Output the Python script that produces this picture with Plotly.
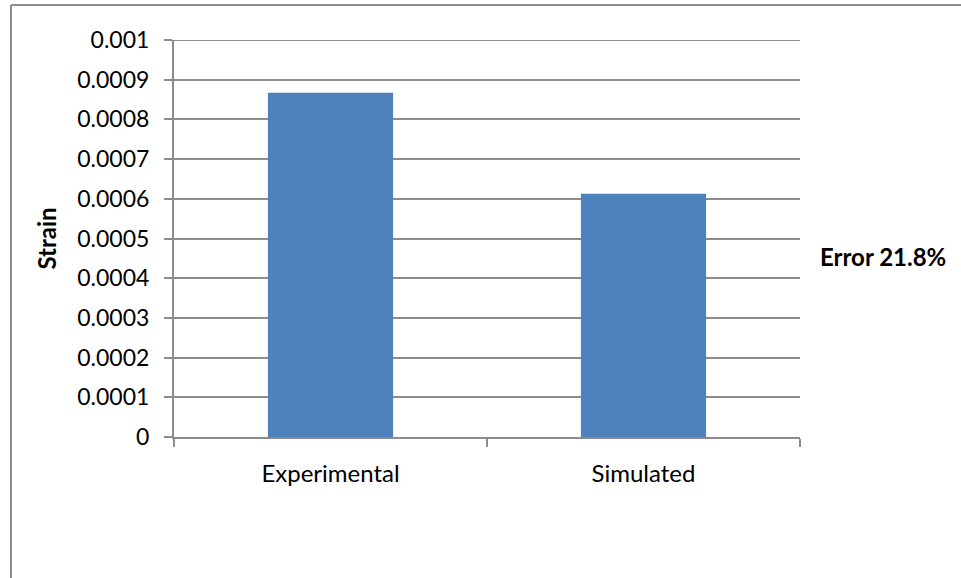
import plotly.graph_objects as go

categories = ["Experimental", "Simulated"]
strain = [0.000867, 0.000613]
y_ticks = [0, 0.0001, 0.0002, 0.0003, 0.0004, 0.0005, 0.0006, 0.0007, 0.0008, 0.0009, 0.001]
y_tick_labels = ["0", "0.0001", "0.0002", "0.0003", "0.0004", "0.0005",
                 "0.0006", "0.0007", "0.0008", "0.0009", "0.001"]
error_note = "Error 21.8%"

FONT = "Lato, 'Open Sans', sans-serif"
GRID = "#8c8c8c"
PLOT_W = 961 - 174 - 161
PLOT_H = 578 - 40 - 140.5

fig = go.Figure(
    go.Bar(
        x=categories,
        y=strain,
        marker=dict(color="#4F81BD", line=dict(width=0)),
        showlegend=False,
    )
)

fig.update_layout(
    width=961,
    height=578,
    margin=dict(l=174, r=161, t=40, b=140.5),
    paper_bgcolor="white",
    plot_bgcolor="white",
    bargap=0.6,
    font=dict(family=FONT, size=23, color="black"),
    xaxis=dict(
        showline=True,
        linecolor=GRID,
        linewidth=2,
        ticks="outside",
        tickson="boundaries",
        ticklen=8,
        tickwidth=2,
        tickcolor=GRID,
        showgrid=False,
        ticklabelstandoff=14,
        tickfont=dict(family=FONT, size=24),
    ),
    yaxis=dict(
        range=[0, 0.001],
        tickvals=y_ticks,
        ticktext=y_tick_labels,
        showline=True,
        linecolor=GRID,
        linewidth=2,
        ticks="outside",
        ticklen=8,
        tickwidth=2,
        tickcolor=GRID,
        showgrid=True,
        gridcolor=GRID,
        gridwidth=2,
        zeroline=False,
        ticklabelstandoff=10,
        tickfont=dict(family=FONT, size=23),
        title=dict(text="<b>Strain</b>", font=dict(family=FONT, size=24), standoff=14),
    ),
    annotations=[
        dict(
            text="<b>" + error_note + "</b>",
            xref="paper", yref="paper",
            x=(818 - 174) / PLOT_W, y=(437.5 - 257) / PLOT_H,
            xanchor="left", yanchor="middle",
            showarrow=False,
            font=dict(family=FONT, size=24, color="black"),
        )
    ],
    shapes=[
        # top gridline at the range limit
        dict(type="line", xref="paper", yref="y",
             x0=0, x1=1, y0=0.001, y1=0.001,
             line=dict(color=GRID, width=2)),
        # chart frame (top and left edges)
        dict(type="line", xref="paper", yref="paper",
             x0=-163 / PLOT_W, x1=(961 - 174) / PLOT_W,
             y0=(437.5 - 5) / PLOT_H, y1=(437.5 - 5) / PLOT_H,
             line=dict(color=GRID, width=2)),
        dict(type="line", xref="paper", yref="paper",
             x0=-163 / PLOT_W, x1=-163 / PLOT_W,
             y0=(437.5 - 5) / PLOT_H, y1=(437.5 - 580) / PLOT_H,
             line=dict(color=GRID, width=2)),
    ],
)

fig.write_html("out.html")
